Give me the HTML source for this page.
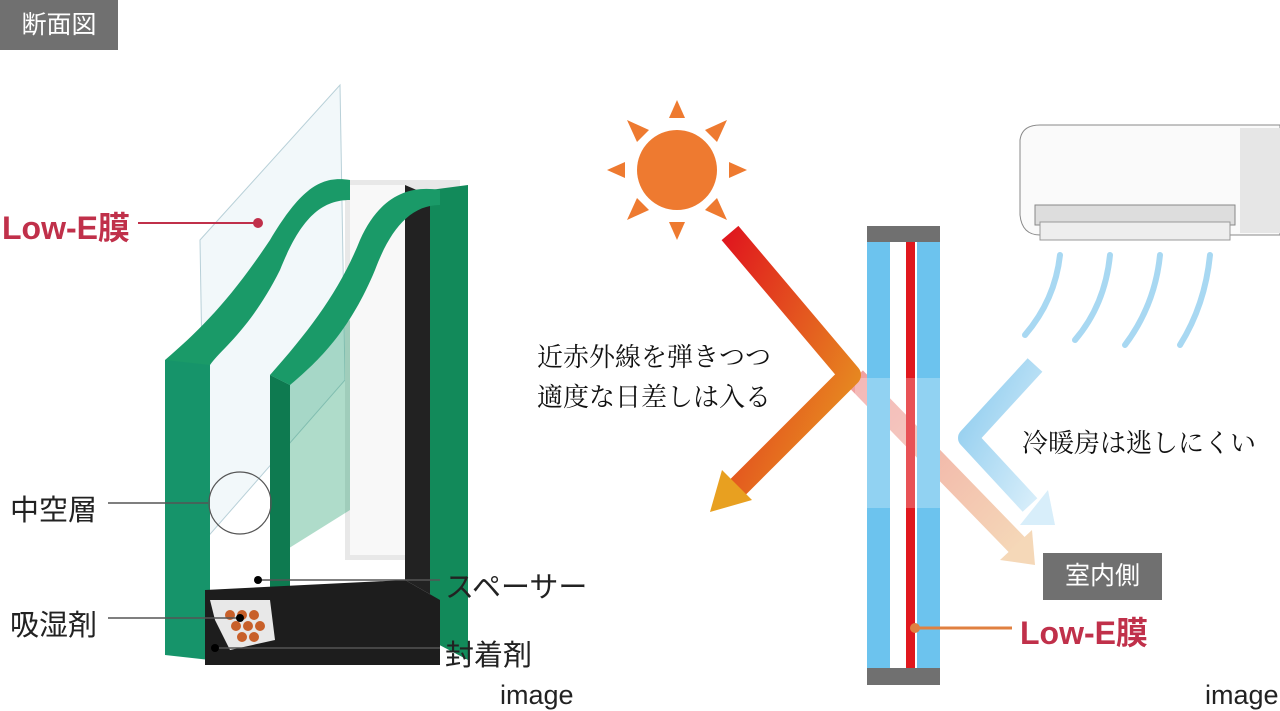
<!DOCTYPE html>
<html><head><meta charset="utf-8"><style>
html,body{margin:0;padding:0;background:#fff;}
body{width:1280px;height:711px;position:relative;overflow:hidden;font-family:"Liberation Sans","Noto Sans CJK JP",sans-serif;}
.t{position:absolute;white-space:nowrap;}
</style></head><body>
<svg width="1280" height="711" style="position:absolute;left:0;top:0">
<defs>
<linearGradient id="rg" x1="0" y1="0" x2="1" y2="1"><stop offset="0" stop-color="#e0181e"/><stop offset="1" stop-color="#e8a020"/></linearGradient>
<linearGradient id="pg" x1="0" y1="0" x2="1" y2="1"><stop offset="0" stop-color="#f0a0a0"/><stop offset="1" stop-color="#f5d8b8"/></linearGradient>
<linearGradient id="bg" x1="0" y1="0" x2="1" y2="1"><stop offset="0" stop-color="#8ccbee"/><stop offset="1" stop-color="#d8eefa"/></linearGradient>
</defs>
<!-- left illustration -->
<polygon points="200,240 340,85 345,380 205,540" fill="#f2f8fa" stroke="#b8d0d8"/>
<polygon points="345,180 460,180 460,560 345,560" fill="#e8e8e8"/>
<polygon points="350,185 405,185 405,555 350,555" fill="#f8f8f8"/>
<polygon points="405,185 440,200 440,600 405,580" fill="#222"/>
<polygon points="430,190 468,185 468,660 430,640" fill="#128a5a"/>
<polygon points="270,375 350,320 350,510 270,560" fill="#1a9a68" opacity="0.35"/>
<polygon points="270,375 290,385 290,640 270,630" fill="#0e7a50"/>
<polygon points="165,360 210,360 210,660 165,655" fill="#16946a"/>
<polygon points="205,590 405,580 440,600 440,665 205,665" fill="#1d1d1d"/>
<polygon points="210,600 270,600 275,640 230,650 215,620" fill="#e8e8e8"/>
<g fill="#c8602a"><circle cx="230" cy="615" r="5"/><circle cx="242" cy="615" r="5"/><circle cx="254" cy="615" r="5"/><circle cx="236" cy="626" r="5"/><circle cx="248" cy="626" r="5"/><circle cx="260" cy="626" r="5"/><circle cx="242" cy="637" r="5"/><circle cx="254" cy="637" r="5"/></g>
<path d="M165,360 C200,330 230,300 270,240 C300,190 320,175 350,180 L350,200 C320,200 300,220 280,270 C250,330 220,350 210,365 Z" fill="#1a9a68"/>
<path d="M270,375 C310,330 340,290 360,240 C380,195 410,185 440,190 L440,205 C410,205 390,230 375,270 C350,330 320,360 290,385 Z" fill="#1a9a68"/>
<circle cx="240" cy="503" r="31" fill="none" stroke="#555" stroke-width="1.2"/>
<circle cx="258" cy="223" r="5" fill="#c0304a"/>
<line x1="138" y1="223" x2="258" y2="223" stroke="#c0304a" stroke-width="2"/>
<line x1="108" y1="503" x2="208" y2="503" stroke="#555" stroke-width="1.5"/>
<line x1="108" y1="618" x2="240" y2="618" stroke="#555" stroke-width="1.5"/>
<circle cx="240" cy="618" r="4" fill="#000"/>
<line x1="258" y1="580" x2="440" y2="580" stroke="#555" stroke-width="1.5"/>
<circle cx="258" cy="580" r="4" fill="#000"/>
<line x1="215" y1="648" x2="440" y2="648" stroke="#555" stroke-width="1.5"/>
<circle cx="215" cy="648" r="4" fill="#000"/>
<!-- sun -->
<circle cx="677" cy="170" r="40" fill="#ee7a30"/>
<g fill="#ee7a30">
<polygon points="677,100 669,118 685,118"/><polygon points="677,240 669,222 685,222"/>
<polygon points="607,170 625,162 625,178"/><polygon points="747,170 729,162 729,178"/>
<polygon points="627,120 649,130 637,142"/><polygon points="727,120 705,130 717,142"/>
<polygon points="627,220 649,210 637,198"/><polygon points="727,220 705,210 717,198"/>
</g>
<polyline points="855,378 1020,548" stroke="url(#pg)" stroke-width="22" fill="none"/>
<polygon points="1000,560 1035,565 1032,530" fill="#f5d8b8"/>
<rect x="867" y="226" width="73" height="16" fill="#707070"/>
<rect x="867" y="668" width="73" height="17" fill="#707070"/>
<rect x="867" y="242" width="23" height="426" fill="#6cc3ee"/>
<rect x="917" y="242" width="23" height="426" fill="#6cc3ee"/>
<rect x="906" y="242" width="9" height="426" fill="#e0181e"/>
<rect x="855" y="378" width="85" height="130" fill="#fff" opacity="0.25"/>
<polyline points="730,233 850,375 730,495" stroke="url(#rg)" stroke-width="22" fill="none" stroke-linejoin="round"/>
<polygon points="710,512 722,470 752,500" fill="#e8a020"/>
<path d="M1020,140 Q1022,125 1040,125 L1280,125 L1280,235 L1040,235 Q1022,235 1020,215 Z" fill="#fafafa" stroke="#888"/>
<rect x="1035" y="205" width="200" height="20" fill="#ddd" stroke="#888"/>
<rect x="1040" y="222" width="190" height="18" fill="#eee" stroke="#999"/>
<rect x="1240" y="128" width="40" height="105" fill="#e6e6e6"/>
<g fill="none" stroke="#a8d8f2" stroke-width="6" stroke-linecap="round">
<path d="M1060,255 Q1055,300 1025,335"/><path d="M1110,255 Q1105,305 1075,340"/><path d="M1160,255 Q1155,305 1125,345"/><path d="M1210,255 Q1205,305 1180,345"/>
</g>
<polyline points="1035,365 968,438 1030,505" stroke="url(#bg)" stroke-width="20" fill="none" stroke-linejoin="round"/>
<polygon points="1055,525 1020,525 1048,490" fill="#d8eefa"/>
<line x1="915" y1="628" x2="1012" y2="628" stroke="#e08040" stroke-width="3"/>
<circle cx="915" cy="628" r="5" fill="#e08040"/>
</svg>
<div class="t" style="left:0;top:0;width:118px;height:50px;background:#707070;color:#fff;font-size:25px;line-height:50px;text-align:center">断面図</div>
<div class="t" style="left:2px;top:203px;color:#c0304a;font-size:32px;font-weight:bold">Low-E膜</div>
<div class="t" style="left:10px;top:487px;color:#222;font-size:29px">中空層</div>
<div class="t" style="left:10px;top:602px;color:#222;font-size:29px">吸湿剤</div>
<div class="t" style="left:445px;top:564px;color:#222;font-size:29px">スペーサー</div>
<div class="t" style="left:445px;top:632px;color:#222;font-size:29px">封着剤</div>
<div class="t" style="left:500px;top:680px;color:#222;font-size:27px">image</div>
<div class="t" style="left:1205px;top:680px;color:#222;font-size:27px">image</div>
<div class="t" style="left:537px;top:337px;color:#111;font-size:26px;font-family:'Liberation Serif','Noto Serif CJK SC',serif">近赤外線を弾きつつ</div>
<div class="t" style="left:537px;top:377px;color:#111;font-size:26px;font-family:'Liberation Serif','Noto Serif CJK SC',serif">適度な日差しは入る</div>
<div class="t" style="left:1022px;top:423px;color:#111;font-size:26px;font-family:'Liberation Serif','Noto Serif CJK SC',serif">冷暖房は逃しにくい</div>
<div class="t" style="left:1043px;top:553px;width:119px;height:47px;background:#707070;color:#fff;font-size:25px;line-height:47px;text-align:center">室内側</div>
<div class="t" style="left:1020px;top:608px;color:#c0304a;font-size:32px;font-weight:bold">Low-E膜</div>
</body></html>
